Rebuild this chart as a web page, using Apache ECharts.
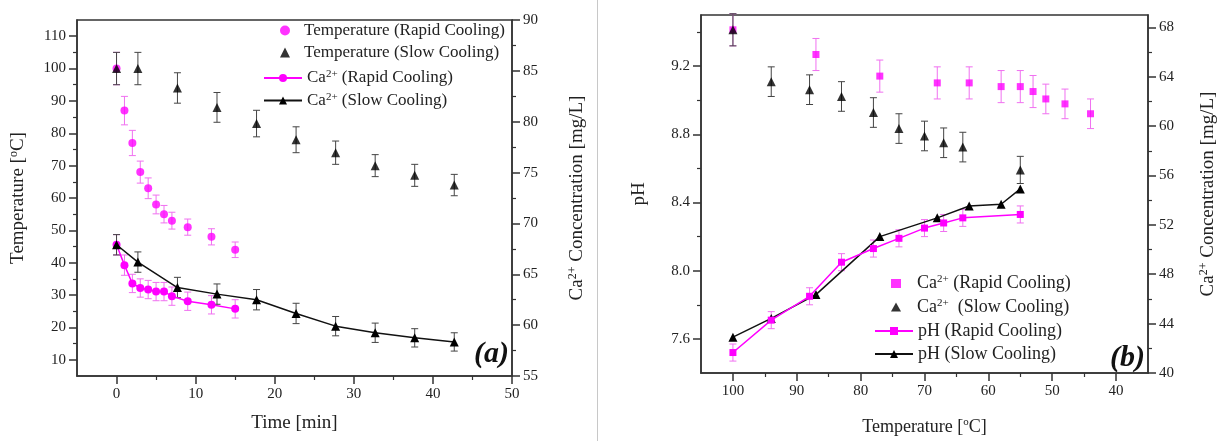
<!DOCTYPE html>
<html><head><meta charset="utf-8">
<script src="https://cdn.jsdelivr.net/npm/echarts@6/dist/echarts.min.js"></script>
<style>html,body{margin:0;padding:0;background:#fff}#c{width:1231px;height:441px}</style>
</head><body><div id="c"></div>
<script>
// ---------- Panel (a): vs time ----------
const timeRapid    = [0, 1, 2, 3, 4, 5, 6, 7, 9, 12, 15];
const tempRapid    = [100, 87, 77, 68, 63, 58, 55, 53, 51, 48, 44];
const tempRapidErr = [5, 4.4, 3.9, 3.4, 3.2, 2.9, 2.7, 2.6, 2.5, 2.5, 2.4];
const caRapidA     = [67.9, 65.9, 64.1, 63.65, 63.5, 63.3, 63.3, 62.85, 62.35, 62.0, 61.6];
const caRapidAErr  = [1.0, 1.0, 0.9, 0.9, 0.9, 0.9, 0.9, 0.9, 0.9, 0.9, 0.9];
const timeSlow     = [0, 2.7, 7.7, 12.7, 17.7, 22.7, 27.7, 32.7, 37.7, 42.7];
const tempSlow     = [100, 100, 94, 88, 83, 78, 74, 70, 67, 64];
const tempSlowErr  = [5, 5, 4.7, 4.6, 4.1, 4.0, 3.6, 3.4, 3.4, 3.3];
const caSlowA      = [67.9, 66.2, 63.7, 63.05, 62.5, 61.15, 59.9, 59.25, 58.75, 58.35];
const caSlowAErr   = [1.0, 1.0, 1.0, 1.0, 1.0, 1.0, 0.95, 0.95, 0.9, 0.9];
// ---------- Panel (b): vs temperature ----------
const tCaRapidB    = [100, 87, 77, 68, 63, 58, 55, 53, 51, 48, 44];
const caRapidB     = [67.8, 65.8, 64.05, 63.5, 63.5, 63.2, 63.2, 62.8, 62.2, 61.8, 61.0];
const caRapidBErr  = [1.3, 1.3, 1.3, 1.3, 1.3, 1.3, 1.3, 1.3, 1.2, 1.2, 1.2];
const tCaSlowB     = [100, 94, 88, 83, 78, 74, 70, 67, 64, 55];
const caSlowB      = [67.8, 63.6, 62.95, 62.4, 61.1, 59.8, 59.2, 58.65, 58.3, 56.45];
const caSlowBErr   = [1.3, 1.2, 1.2, 1.2, 1.2, 1.2, 1.2, 1.2, 1.2, 1.1];
const tPhRapid     = [100, 94, 88, 83, 78, 74, 70, 67, 64, 55];
const phRapid      = [7.52, 7.71, 7.85, 8.05, 8.13, 8.19, 8.25, 8.28, 8.31, 8.33];
const phRapidErr   = [0.05, 0.05, 0.05, 0.05, 0.05, 0.05, 0.05, 0.05, 0.05, 0.05];
const tPhSlow      = [100, 94, 87, 77, 68, 63, 58, 55];
const phSlow       = [7.61, 7.72, 7.86, 8.20, 8.31, 8.38, 8.39, 8.48];
// ---------- tick labels ----------
const timeTicks   = [0, 10, 20, 30, 40, 50];
const timeMinor   = [5, 15, 25, 35, 45];
const tempTicksA  = [10, 20, 30, 40, 50, 60, 70, 80, 90, 100, 110];
const tempMinorA  = [15, 25, 35, 45, 55, 65, 75, 85, 95, 105];
const caTicksA    = [55, 60, 65, 70, 75, 80, 85, 90];
const caMinorA    = [57.5, 62.5, 67.5, 72.5, 77.5, 82.5, 87.5];
const tempTicksB  = [40, 50, 60, 70, 80, 90, 100];
const tempMinorB  = [45, 55, 65, 75, 85, 95];
const phTicks     = [7.6, 8.0, 8.4, 8.8, 9.2];
const phMinor     = [7.8, 8.2, 8.6, 9.0, 9.4];
const caTicksB    = [40, 44, 48, 52, 56, 60, 64, 68];
const caMinorB    = [42, 46, 50, 54, 58, 62, 66];

const FONT = '"Liberation Serif","Times New Roman",serif';
const MAG = '#ff00ff', MAGERR = '#f070f0', BLK = '#000', BLKERR = '#444';
const pair = (xs, ys) => xs.map((x, i) => [x, ys[i]]);
const errs = (xs, ys, es) => xs.map((x, i) => [x, ys[i] - es[i], ys[i] + es[i]]);

function errBar(color) {
  return function (params, api) {
    const x = api.value(0), lo = api.value(1), hi = api.value(2);
    const a = api.coord([x, hi]), b = api.coord([x, lo]);
    const w = 3.5, st = { stroke: color, lineWidth: 1 };
    return { type: 'group', children: [
      { type: 'line', shape: { x1: a[0], y1: a[1], x2: b[0], y2: b[1] }, style: st },
      { type: 'line', shape: { x1: a[0] - w, y1: a[1], x2: a[0] + w, y2: a[1] }, style: st },
      { type: 'line', shape: { x1: b[0] - w, y1: b[1], x2: b[0] + w, y2: b[1] }, style: st }
    ]};
  };
}
function errSeries(xi, yi, data, color) {
  return { type: 'custom', xAxisIndex: xi, yAxisIndex: yi, data: data, renderItem: errBar(color),
           encode: { x: 0, y: [1, 2] }, z: 1, silent: true };
}
function richSet(size, lh, pad) {
  return {
    p: { width: pad || 0, lineHeight: lh },
    n: { fontFamily: FONT, color: '#222', fontSize: size, lineHeight: lh },
    s: { fontFamily: FONT, color: '#222', fontSize: Math.round(size * 0.62), lineHeight: Math.round(size * 0.62), verticalAlign: 'top' }
  };
}

const lineAx = { show: true, onZero: false, lineStyle: { color: '#333', width: 1.5 } };
function mainAxis(extra, ticks, fmt, size) {
  return Object.assign({
    type: 'value', splitLine: { show: false },
    axisLine: lineAx,
    axisTick: { show: true, inside: false, length: 8, customValues: ticks, lineStyle: { color: '#333', width: 1.5 } },
    axisLabel: { show: true, customValues: ticks, fontFamily: FONT, fontSize: size, color: '#222', margin: 11,
                 formatter: fmt || (v => String(v)) },
    minorTick: { show: false }
  }, extra);
}
function minorAxis(extra, ticks) {
  return Object.assign({
    type: 'value', splitLine: { show: false },
    axisLine: { show: false, onZero: false },
    axisTick: { show: true, inside: false, length: 4, customValues: ticks, lineStyle: { color: '#333', width: 1.2 } },
    axisLabel: { show: false }
  }, extra);
}

const legendText = {
  'Temperature (Rapid Cooling)': '{p|}{n|Temperature (Rapid Cooling)}',
  'Temperature (Slow Cooling)': '{p|}{n|Temperature (Slow Cooling)}',
  'Ca2+ (Rapid Cooling)': '{n|Ca}{s|2+}{n| (Rapid Cooling)}',
  'Ca2+ (Slow Cooling)': '{n|Ca}{s|2+}{n| (Slow Cooling)}',
  'b Ca2+ (Rapid Cooling)': '{p|}{n|Ca}{s|2+}{n| (Rapid Cooling)}',
  'b Ca2+ (Slow Cooling)': '{p|}{n|Ca}{s|2+}{n|  (Slow Cooling)}',
  'pH (Rapid Cooling)': '{n|pH (Rapid Cooling)}',
  'pH (Slow Cooling)': '{n|pH (Slow Cooling)}'
};
function legendOf(names, left, top, w, h, size, lh, pad) {
  return { orient: 'vertical', left: left, top: top, itemWidth: w, itemHeight: h, itemGap: 5, selectedMode: false,
    data: names, formatter: n => legendText[n], textStyle: { rich: richSet(size, lh, pad) } };
}

const chart = echarts.init(document.getElementById('c'), null, { renderer: 'canvas' });
chart.setOption({
  animation: false,
  backgroundColor: '#fff',
  grid: [
    { left: 77, right: 719, top: 20, bottom: 65, show: true, borderColor: '#333', borderWidth: 1.5, backgroundColor: 'transparent' },
    { left: 701, right: 83, top: 15, bottom: 65, show: true, borderColor: '#333', borderWidth: 1.5, backgroundColor: 'transparent' }
  ],
  xAxis: [
    mainAxis({ gridIndex: 0, position: 'bottom', min: -5, max: 50,
      name: 'Time [min]', nameLocation: 'middle', nameGap: 38,
      nameTextStyle: { fontFamily: FONT, fontSize: 19, color: '#222' } }, timeTicks, null, 15),
    minorAxis({ gridIndex: 0, position: 'bottom', min: -5, max: 50 }, timeMinor),
    mainAxis({ gridIndex: 1, position: 'bottom', min: 35, max: 105, inverse: true,
      name: '{n|Temperature [}{s|o}{n|C]}', nameLocation: 'middle', nameGap: 44,
      nameTextStyle: { rich: richSet(18, 20) } }, tempTicksB, null, 15),
    minorAxis({ gridIndex: 1, position: 'bottom', min: 35, max: 105, inverse: true }, tempMinorB)
  ],
  yAxis: [
    mainAxis({ gridIndex: 0, position: 'left', min: 5, max: 115,
      name: '{n|Temperature [}{s|o}{n|C]}', nameLocation: 'middle', nameRotate: 90, nameGap: 48,
      nameTextStyle: { rich: richSet(19, 21) } }, tempTicksA, null, 15),
    mainAxis({ gridIndex: 0, position: 'right', min: 55, max: 90,
      name: '{n|Ca}{s|2+}{n| Concentration [mg/L]}', nameLocation: 'middle', nameRotate: 90, nameGap: 55,
      nameTextStyle: { rich: richSet(19, 21) } }, caTicksA, null, 15),
    minorAxis({ gridIndex: 0, position: 'left', min: 5, max: 115 }, tempMinorA),
    minorAxis({ gridIndex: 0, position: 'right', min: 55, max: 90 }, caMinorA),
    mainAxis({ gridIndex: 1, position: 'left', min: 7.4, max: 9.5,
      name: 'pH', nameLocation: 'middle', nameRotate: 90, nameGap: 52,
      nameTextStyle: { fontFamily: FONT, fontSize: 19, color: '#222' } }, phTicks, v => Number(v).toFixed(1), 15),
    mainAxis({ gridIndex: 1, position: 'right', min: 40, max: 69,
      name: '{n|Ca}{s|2+}{n| Concentration [mg/L]}', nameLocation: 'middle', nameRotate: 90, nameGap: 50,
      nameTextStyle: { rich: richSet(19, 21) } }, caTicksB, null, 15),
    minorAxis({ gridIndex: 1, position: 'left', min: 7.4, max: 9.5 }, phMinor),
    minorAxis({ gridIndex: 1, position: 'right', min: 40, max: 69 }, caMinorB)
  ],
  legend: [
    legendOf(['Temperature (Rapid Cooling)', 'Temperature (Slow Cooling)'], 275, 17, 10, 10, 17, 18, 9),
    legendOf(['Ca2+ (Rapid Cooling)', 'Ca2+ (Slow Cooling)'], 258, 64, 38, 10, 17, 18, 0),
    legendOf(['b Ca2+ (Rapid Cooling)', 'b Ca2+ (Slow Cooling)'], 886, 269, 10, 9, 18, 19, 11),
    legendOf(['pH (Rapid Cooling)', 'pH (Slow Cooling)'], 869, 317, 38, 10, 18, 19, 0)
  ],
  graphic: [
    { type: 'line', shape: { x1: 597.5, y1: 0, x2: 597.5, y2: 441 }, style: { stroke: '#c8c8c8', lineWidth: 1 }, silent: true },
    { type: 'text', x: 509, y: 369, style: { text: '(a)', font: 'italic bold 30px "Liberation Serif", serif', fill: '#111', align: 'right', verticalAlign: 'bottom' } },
    { type: 'text', x: 1145, y: 373, style: { text: '(b)', font: 'italic bold 30px "Liberation Serif", serif', fill: '#111', align: 'right', verticalAlign: 'bottom' } }
  ],
  series: [
    // panel (a)
    errSeries(0, 0, errs(timeRapid, tempRapid, tempRapidErr), MAGERR),
    errSeries(0, 0, errs(timeSlow, tempSlow, tempSlowErr), BLKERR),
    errSeries(0, 1, errs(timeRapid, caRapidA, caRapidAErr), MAGERR),
    errSeries(0, 1, errs(timeSlow, caSlowA, caSlowAErr), BLKERR),
    { name: 'Temperature (Rapid Cooling)', type: 'scatter', xAxisIndex: 0, yAxisIndex: 0, data: pair(timeRapid, tempRapid),
      symbol: 'circle', symbolSize: 8, itemStyle: { color: MAG }, z: 3 },
    { name: 'Temperature (Slow Cooling)', type: 'scatter', xAxisIndex: 0, yAxisIndex: 0, data: pair(timeSlow, tempSlow),
      symbol: 'triangle', symbolSize: 9, itemStyle: { color: BLK }, z: 4 },
    { name: 'Ca2+ (Rapid Cooling)', type: 'line', xAxisIndex: 0, yAxisIndex: 1, data: pair(timeRapid, caRapidA),
      symbol: 'circle', symbolSize: 8, showSymbol: true, itemStyle: { color: MAG }, lineStyle: { color: MAG, width: 1.5 }, z: 3 },
    { name: 'Ca2+ (Slow Cooling)', type: 'line', xAxisIndex: 0, yAxisIndex: 1, data: pair(timeSlow, caSlowA),
      symbol: 'triangle', symbolSize: 9, showSymbol: true, itemStyle: { color: BLK }, lineStyle: { color: '#111', width: 1.5 }, z: 4 },
    // panel (b)
    errSeries(2, 5, errs(tCaRapidB, caRapidB, caRapidBErr), MAGERR),
    errSeries(2, 5, errs(tCaSlowB, caSlowB, caSlowBErr), BLKERR),
    errSeries(2, 4, errs(tPhRapid, phRapid, phRapidErr), MAGERR),
    { name: 'pH (Slow Cooling)', type: 'line', xAxisIndex: 2, yAxisIndex: 4, data: pair(tPhSlow, phSlow),
      symbol: 'triangle', symbolSize: 9, showSymbol: true, itemStyle: { color: BLK }, lineStyle: { color: '#111', width: 1.5 }, z: 3 },
    { name: 'pH (Rapid Cooling)', type: 'line', xAxisIndex: 2, yAxisIndex: 4, data: pair(tPhRapid, phRapid),
      symbol: 'rect', symbolSize: 7, showSymbol: true, itemStyle: { color: MAG }, lineStyle: { color: MAG, width: 1.5 }, z: 4 },
    { name: 'b Ca2+ (Rapid Cooling)', type: 'scatter', xAxisIndex: 2, yAxisIndex: 5, data: pair(tCaRapidB, caRapidB),
      symbol: 'rect', symbolSize: 7, itemStyle: { color: MAG }, z: 4 },
    { name: 'b Ca2+ (Slow Cooling)', type: 'scatter', xAxisIndex: 2, yAxisIndex: 5, data: pair(tCaSlowB, caSlowB),
      symbol: 'triangle', symbolSize: 9, itemStyle: { color: BLK }, z: 5 }
  ]
});
</script>
</body></html>
